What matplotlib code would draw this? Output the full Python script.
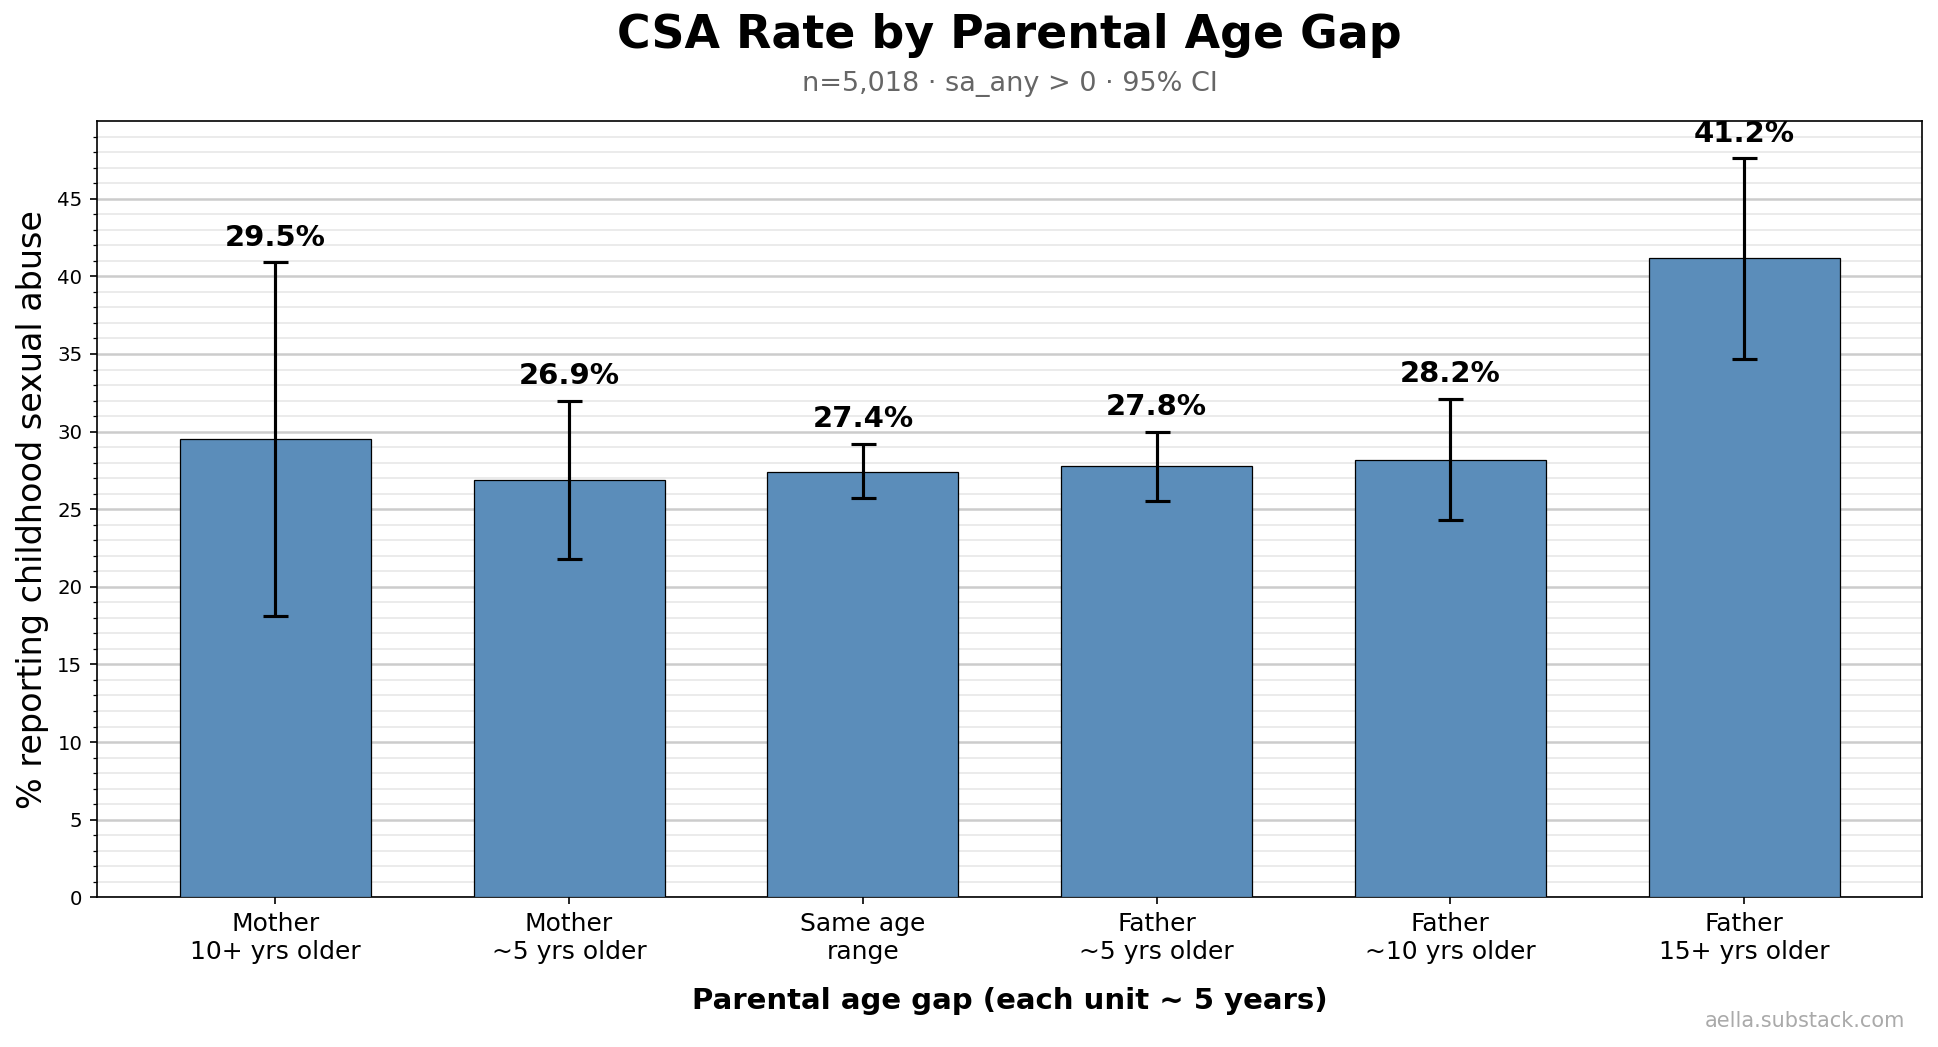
import numpy as np
import matplotlib.pyplot as plt
from matplotlib.ticker import MultipleLocator

# data
labels = ["Mother\n10+ yrs older", "Mother\n~5 yrs older", "Same age\nrange",
          "Father\n~5 yrs older", "Father\n~10 yrs older", "Father\n15+ yrs older"]
rates = [29.5, 26.9, 27.4, 27.8, 28.2, 41.2]
ci_low = [18.1, 21.8, 25.7, 25.5, 24.3, 34.7]
ci_high = [40.9, 32.0, 29.2, 30.0, 32.1, 47.6]

x = np.arange(len(labels))
rates = np.array(rates)
yerr = [rates - np.array(ci_low), np.array(ci_high) - rates]

fig, ax = plt.subplots(figsize=(12.92, 6.98), dpi=150)
fig.subplots_adjust(left=0.05, right=0.992, top=0.884, bottom=0.143)

ax.bar(x, rates, width=0.65, color="#5b8dba", edgecolor="black", linewidth=0.6, zorder=3)
ax.errorbar(x, rates, yerr=yerr, fmt="none", ecolor="black", elinewidth=1.5,
            capsize=6, capthick=1.5, zorder=4)

for xi, r, hi in zip(x, rates, ci_high):
    ax.text(xi, hi + 0.7, f"{r:.1f}%", ha="center", va="bottom",
            fontsize=14, fontweight="bold", zorder=5)

ax.set_ylim(0, max(ci_high) * 1.05)
ax.yaxis.set_major_locator(MultipleLocator(5))
ax.yaxis.set_minor_locator(MultipleLocator(1))
ax.grid(axis="y", which="major", color="#cccccc", linewidth=1.2, zorder=0)
ax.grid(axis="y", which="minor", color="#e8e8e8", linewidth=0.8, zorder=0)
ax.set_axisbelow(True)

ax.set_xticks(x)
ax.set_xticklabels(labels, fontsize=12)
ax.tick_params(axis="y", labelsize=9.5)
ax.set_ylabel("% reporting childhood sexual abuse", fontsize=16)
ax.set_xlabel("Parental age gap (each unit ~ 5 years)", fontsize=14,
              fontweight="bold", labelpad=11)

fig.text(0.521, 0.966, "CSA Rate by Parental Age Gap", ha="center", va="center",
         fontsize=22, fontweight="bold")
fig.text(0.521, 0.920, "n=5,018 · sa_any > 0 · 95% CI", ha="center", va="center",
         fontsize=13, color="#666666")
fig.text(0.983, 0.025, "aella.substack.com", ha="right", va="center",
         fontsize=10, color="#aaaaaa")

plt.savefig("out.png", dpi=150)
